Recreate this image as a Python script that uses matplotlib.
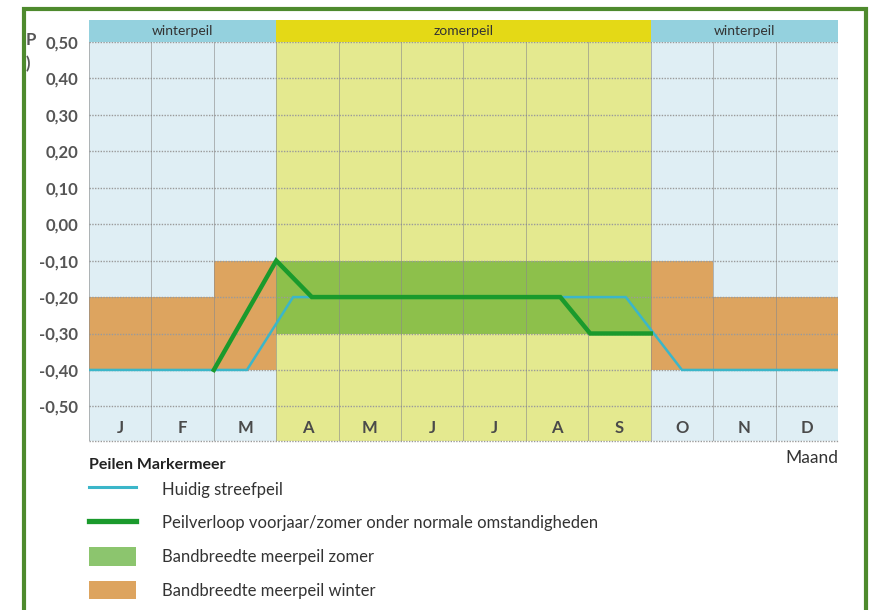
import numpy as np
import matplotlib
matplotlib.use("Agg")
import matplotlib.pyplot as plt
from matplotlib.lines import Line2D
from matplotlib.patches import Patch, Rectangle

plt.rcParams['font.family'] = ['Lato', 'DejaVu Sans']

# --- data ---
months = ['J', 'F', 'M', 'A', 'M', 'J', 'J', 'A', 'S', 'O', 'N', 'D']
seasons = ['winter'] * 3 + ['zomer'] * 6 + ['winter'] * 3
header_labels = ['winterpeil', 'zomerpeil', 'winterpeil']
header_spans = [(0, 3), (3, 9), (9, 12)]

# band per month (low, high)
winter_low = [-0.40, -0.40, -0.40, None, None, None, None, None, None, -0.40, -0.40, -0.40]
winter_high = [-0.20, -0.20, -0.10, None, None, None, None, None, None, -0.10, -0.20, -0.20]
summer_low, summer_high = -0.30, -0.10
summer_span = (3, 9)

# huidig streefpeil (x in months from 1 Jan)
streef_x = [0, 2.53, 3.27, 8.6, 9.5, 12]
streef_y = [-0.40, -0.40, -0.20, -0.20, -0.40, -0.40]

# peilverloop voorjaar/zomer
verloop_x = [2.0, 3.0, 3.57, 7.55, 8.03, 9.0]
verloop_y = [-0.40, -0.10, -0.20, -0.20, -0.30, -0.30]

yticks = np.round(np.arange(-0.5, 0.51, 0.1), 2)

c_winter_bg = '#dfeef4'
c_summer_bg = '#e4e98f'
c_head_w = '#94d1de'
c_head_z = '#e4d916'
c_orange = '#dda45f'
c_green = '#8dc04b'
c_line_g = '#1a9a2c'
c_line_b = '#3bb6c9'
c_border = '#4e8a2d'

W, H = 874, 610
fig = plt.figure(figsize=(W / 100, H / 100), dpi=100)

x0, x1 = 89, 838
y_top, y_bot = 42, 441
ax = fig.add_axes([x0 / W, 1 - y_bot / H, (x1 - x0) / W, (y_bot - y_top) / H])
ax.set_xlim(0, 12)
ax.set_ylim(-0.595, 0.50)

# backgrounds
for i, s in enumerate(seasons):
    ax.axvspan(i, i + 1, color=c_winter_bg if s == 'winter' else c_summer_bg, lw=0, zorder=0)

# bands
for i in range(12):
    if winter_low[i] is not None:
        ax.add_patch(Rectangle((i, winter_low[i]), 1, winter_high[i] - winter_low[i],
                               color=c_orange, lw=0, zorder=1))
ax.add_patch(Rectangle((summer_span[0], summer_low), summer_span[1] - summer_span[0],
                       summer_high - summer_low, color=c_green, lw=0, zorder=1))

# grid
for y in yticks:
    ax.axhline(y, color='#9a9a9a', lw=1.0, ls=(0, (1, 1)), zorder=2)
ax.axhline(-0.595, color='#9a9a9a', lw=1.0, ls=(0, (1, 1)), zorder=2, clip_on=False)
for x in range(13):
    ax.axvline(x, color='#8a8a8a', lw=0.6, alpha=0.7, zorder=2)

# lines
ax.plot(streef_x, streef_y, color=c_line_b, lw=1.8, zorder=3, solid_joinstyle='miter')
ax.plot(verloop_x, verloop_y, color=c_line_g, lw=3.2, zorder=4, solid_joinstyle='miter')

# month labels
for i, m in enumerate(months):
    ax.text(i + 0.5, -0.56, m, ha='center', va='center', fontsize=12,
            fontweight='bold', color='#4a4a4a', zorder=5)

ax.set_xticks([])
ax.set_yticks(yticks)
ax.set_yticklabels([('%.2f' % v).replace('.', ',').replace('-0,00', '0,00') for v in yticks],
                   fontsize=12, fontweight='bold', color='#555555')
ax.tick_params(axis='y', length=0, pad=8)
for sp in ax.spines.values():
    sp.set_visible(False)

# header band
hx = fig.add_axes([x0 / W, 1 - y_top / H, (x1 - x0) / W, (y_top - 20) / H])
hx.set_xlim(0, 12)
hx.set_ylim(0, 1)
for (a, b), lab in zip(header_spans, header_labels):
    hx.axvspan(a, b, color=c_head_z if lab == 'zomerpeil' else c_head_w, lw=0)
    hx.text((a + b) / 2, 0.5, lab, ha='center', va='center', fontsize=10, color='#333333')
hx.axis('off')

# cut-off axis label remnants
fig.text(31 / W, 1 - 40 / H, 'P', ha='center', va='center', fontsize=12,
         fontweight='bold', color='#555555')
fig.text(28 / W, 1 - 64 / H, ')', ha='center', va='center', fontsize=12,
         fontweight='bold', color='#555555')

fig.text(x1 / W, 1 - 458 / H, 'Maand', ha='right', va='center', fontsize=12.5, color='#333333')

# legend
fig.text(89 / W, 1 - 465 / H, 'Peilen Markermeer', ha='left', va='center',
         fontsize=11.5, fontweight='bold', color='#222222')
handles = [
    Line2D([], [], color=c_line_b, lw=2.2),
    Line2D([], [], color=c_line_g, lw=3.8),
    Patch(facecolor='#8cc56e', edgecolor='none'),
    Patch(facecolor=c_orange, edgecolor='none'),
]
labels = ['Huidig streefpeil',
          'Peilverloop voorjaar/zomer onder normale omstandigheden',
          'Bandbreedte meerpeil zomer',
          'Bandbreedte meerpeil winter']
leg = fig.legend(handles, labels, loc='upper left', bbox_to_anchor=(89 / W, 1 - 480 / H),
                 frameon=False, fontsize=12,
                 handlelength=2.8, handleheight=1.3,
                 handletextpad=1.6, labelspacing=0.93, borderpad=0, borderaxespad=0)
for t in leg.get_texts():
    t.set_color('#333333')

# figure frame
fig.add_artist(Rectangle((23.5 / W, -0.05), (866 - 23.5) / W, 1.05 - 9 / H,
                         transform=fig.transFigure, fill=False, ec=c_border, lw=3.0))

fig.savefig('out.png', dpi=100)
